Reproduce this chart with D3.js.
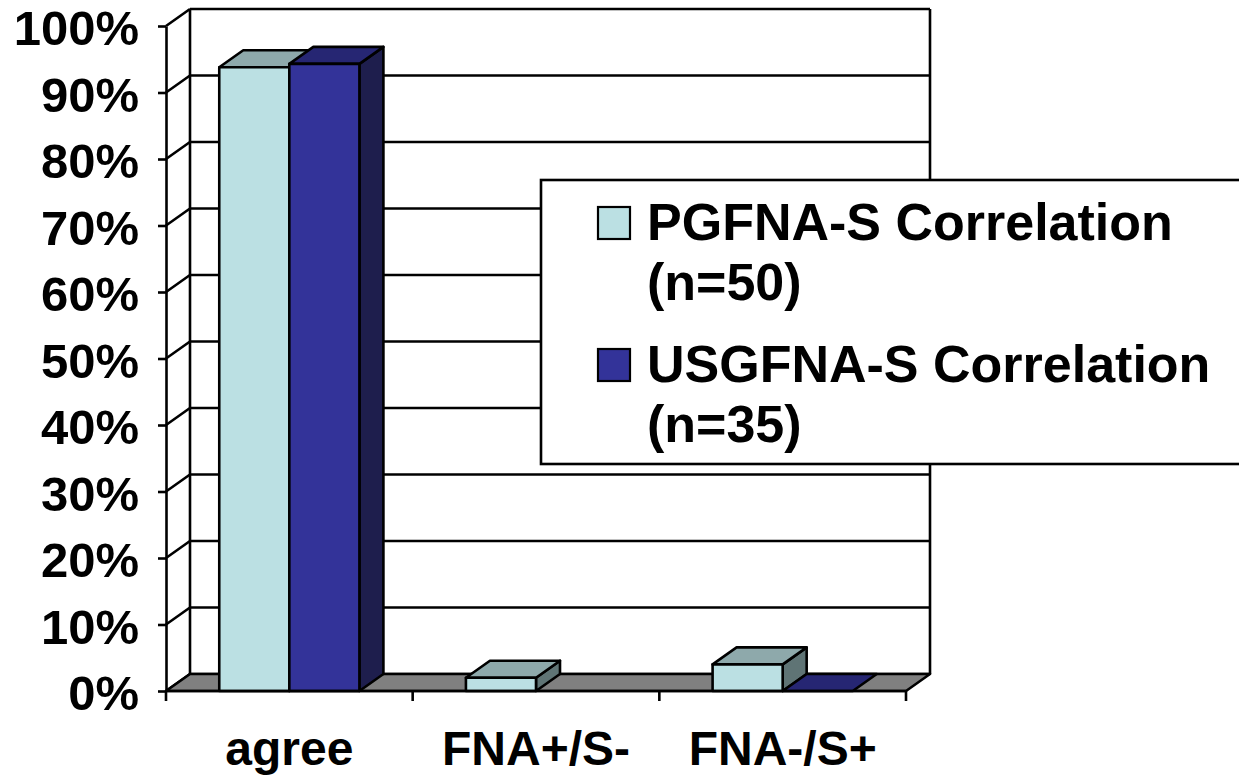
<!DOCTYPE html>
<html>
<head>
<meta charset="utf-8">
<script src="https://cdn.jsdelivr.net/npm/d3@7"></script>
<style>
  html, body { margin: 0; padding: 0; background: #fff; }
  svg { display: block; }
  text { font-family: "Liberation Sans", Arial, sans-serif; font-weight: bold; fill: #000; }
</style>
</head>
<body>
<div id="chart"></div>
<script>
// data
const categories = ['agree', 'FNA+/S-', 'FNA-/S+'];
const seriesKeys = ['pg', 'usg'];
const seriesLabels = ['PGFNA-S Correlation', 'USGFNA-S Correlation'];
const seriesCounts = ['(n=50)', '(n=35)'];
const pgValues = [93.8, 2, 4];
const usgValues = [94.3, null, 0];   // blank cell for FNA+/S-
const yTicks = [0, 10, 20, 30, 40, 50, 60, 70, 80, 90, 100];

const colors = {
  pg:  { front: '#bbe0e3', top: '#8ea9ab', side: '#5f7475' },
  usg: { front: '#333399', top: '#262673', side: '#1e1e4d' }
};

const W = 1239, H = 775;
const depth = { dx: 24, dy: -17 };
const stroke = 2.6;

const svg = d3.select('#chart').append('svg')
  .attr('width', W)
  .attr('height', H);

const x0 = d3.scaleBand().domain(categories).range([166, 906]).padding(0);
const x1 = d3.scaleBand().domain(seriesKeys).range([0, x0.bandwidth()]).paddingInner(0).paddingOuter(0.76);
const y = d3.scaleLinear().domain([0, 100]).range([691, 26]);

const [xl, xr] = x0.range();

// back wall + left wall grid
const grid = svg.append('g').attr('class', 'grid')
  .attr('stroke', '#000').attr('stroke-width', stroke).attr('fill', 'none');

grid.selectAll('.back-line')
  .data(yTicks)
  .join('line')
    .attr('class', 'back-line')
    .attr('x1', xl + depth.dx).attr('x2', xr + depth.dx)
    .attr('y1', d => y(d) + depth.dy).attr('y2', d => y(d) + depth.dy);

grid.selectAll('.side-line')
  .data(yTicks)
  .join('line')
    .attr('class', 'side-line')
    .attr('x1', xl).attr('x2', xl + depth.dx)
    .attr('y1', d => y(d)).attr('y2', d => y(d) + depth.dy);

// wall verticals
grid.append('line')
  .attr('x1', xl + depth.dx).attr('x2', xl + depth.dx)
  .attr('y1', y(100) + depth.dy).attr('y2', y(0) + depth.dy);
grid.append('line')
  .attr('x1', xr + depth.dx).attr('x2', xr + depth.dx)
  .attr('y1', y(100) + depth.dy).attr('y2', y(0) + depth.dy);

// floor
svg.append('polygon')
  .attr('points', [
    [xl, y(0)], [xr, y(0)], [xr + depth.dx, y(0) + depth.dy], [xl + depth.dx, y(0) + depth.dy]
  ].map(p => p.join(',')).join(' '))
  .attr('fill', '#808080')
  .attr('stroke', '#000')
  .attr('stroke-width', stroke)
  .attr('stroke-linejoin', 'round');

// flatten data for the bars, left to right so later faces paint over earlier ones
const bars = [];
categories.forEach((c, i) => {
  bars.push({ cat: c, key: 'pg', value: pgValues[i] });
  bars.push({ cat: c, key: 'usg', value: usgValues[i] });
});

const barG = svg.append('g').attr('class', 'bars')
  .attr('stroke', '#000').attr('stroke-width', stroke).attr('stroke-linejoin', 'round');

bars.filter(d => d.value !== null).forEach(d => {
  const bx = x0(d.cat) + x1(d.key);
  const bw = x1.bandwidth();
  const yt = y(d.value);
  const yb = y(0);
  const g = barG.append('g');
  const pts = a => a.map(p => p.join(',')).join(' ');
  // side face
  if (yb - yt > 0) {
    g.append('polygon')
      .attr('points', pts([[bx + bw, yt], [bx + bw + depth.dx, yt + depth.dy], [bx + bw + depth.dx, yb + depth.dy], [bx + bw, yb]]))
      .attr('fill', colors[d.key].side);
  }
  // top face
  g.append('polygon')
    .attr('points', pts([[bx, yt], [bx + depth.dx, yt + depth.dy], [bx + bw + depth.dx, yt + depth.dy], [bx + bw, yt]]))
    .attr('fill', colors[d.key].top);
  // front face
  if (yb - yt > 0) {
    g.append('rect')
      .attr('x', bx).attr('y', yt)
      .attr('width', bw).attr('height', yb - yt)
      .attr('fill', colors[d.key].front);
  }
});

// y axis on the front plane
const yAxis = d3.axisLeft(y)
  .tickValues(yTicks)
  .tickFormat(d => d + '%')
  .tickSizeInner(8)
  .tickSizeOuter(0)
  .tickPadding(19);

const yAxisG = svg.append('g')
  .attr('class', 'y-axis')
  .attr('transform', `translate(${xl},0)`)
  .call(yAxis);
yAxisG.select('.domain').attr('stroke', '#000').attr('stroke-width', stroke);
yAxisG.selectAll('.tick line').attr('stroke', '#000').attr('stroke-width', stroke);
yAxisG.selectAll('.tick text')
  .attr('font-size', 49)
  .attr('dy', '0.38em')
  .attr('font-family', null);

// x axis: labels centred on categories, ticks at the category boundaries
const xAxis = d3.axisBottom(x0).tickSize(0).tickPadding(40);
const xAxisG = svg.append('g')
  .attr('class', 'x-axis')
  .attr('transform', `translate(0,${y(0)})`)
  .call(xAxis);
xAxisG.select('.domain').remove();
xAxisG.selectAll('.tick text')
  .attr('font-size', 48)
  .attr('font-family', null);

const bounds = categories.map(c => x0(c)).concat([xr]);
xAxisG.selectAll('.bound')
  .data(bounds)
  .join('line')
    .attr('class', 'bound')
    .attr('x1', d => d).attr('x2', d => d)
    .attr('y1', 0).attr('y2', 10)
    .attr('stroke', '#000').attr('stroke-width', stroke);
xAxisG.append('line')
  .attr('x1', xl).attr('x2', xr)
  .attr('y1', 0).attr('y2', 0)
  .attr('stroke', '#000').attr('stroke-width', stroke);

// legend
const legend = svg.append('g').attr('class', 'legend');
legend.append('rect')
  .attr('x', 541).attr('y', 180)
  .attr('width', 720).attr('height', 284)
  .attr('fill', '#fff')
  .attr('stroke', '#000')
  .attr('stroke-width', stroke);

const legendY = d3.scalePoint().domain(seriesKeys).range([240, 382]);

const items = legend.selectAll('.item')
  .data(seriesKeys)
  .join('g')
    .attr('class', 'item')
    .attr('transform', d => `translate(0,${legendY(d)})`);

items.append('rect')
  .attr('x', 598).attr('y', -33)
  .attr('width', 32).attr('height', 32)
  .attr('fill', d => colors[d].front)
  .attr('stroke', '#000')
  .attr('stroke-width', 2.2);

items.append('text')
  .attr('x', 647).attr('y', 0)
  .attr('font-size', 52)
  .text((d, i) => seriesLabels[i]);

items.append('text')
  .attr('x', 647).attr('y', 60)
  .attr('font-size', 52)
  .text((d, i) => seriesCounts[i]);
</script>
</body>
</html>
